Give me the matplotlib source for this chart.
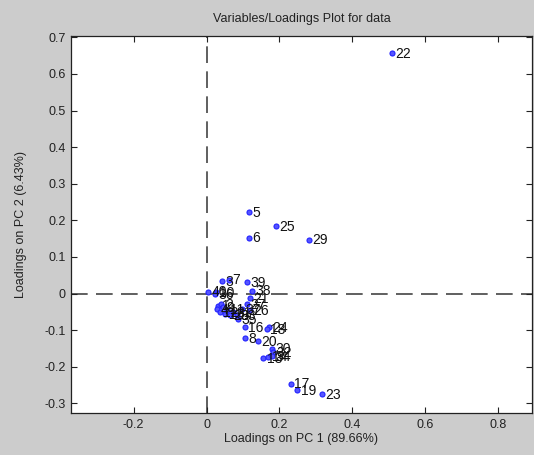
import matplotlib
matplotlib.use("Agg")
from matplotlib import pyplot as plt

# loadings of each variable on the first two principal components
labels = ["22", "5", "25", "29", "6", "3", "7", "39", "38", "40", "10", "36",
          "21", "27", "26", "1", "2", "4", "9", "11", "12", "15", "28", "31",
          "33", "35", "37", "16", "24", "18", "8", "20", "30", "32", "13",
          "14", "34", "17", "19", "23"]
pc1 = [0.509, 0.117, 0.190, 0.282, 0.117, 0.043, 0.062, 0.110, 0.125, 0.005,
       0.026, 0.022, 0.120, 0.110, 0.119, 0.032, 0.041, 0.030, 0.046, 0.055,
       0.037, 0.051, 0.064, 0.073, 0.083, 0.087, 0.096, 0.105, 0.172, 0.165,
       0.105, 0.142, 0.180, 0.183, 0.156, 0.170, 0.180, 0.231, 0.249, 0.316]
pc2 = [0.657, 0.222, 0.184, 0.147, 0.153, 0.034, 0.038, 0.031, 0.008, 0.005,
       0.003, -0.002, -0.012, -0.030, -0.046, -0.033, -0.029, -0.042, -0.038,
       -0.044, -0.051, -0.056, -0.060, -0.051, -0.060, -0.070, -0.042, -0.092,
       -0.092, -0.098, -0.122, -0.131, -0.151, -0.160, -0.176, -0.173, -0.171,
       -0.246, -0.265, -0.276]

xticks = [-0.2, 0, 0.2, 0.4, 0.6, 0.8]
yticks = [-0.3, -0.2, -0.1, 0, 0.1, 0.2, 0.3, 0.4, 0.5, 0.6, 0.7]

plt.rcParams["font.family"] = ["Liberation Sans", "DejaVu Sans"]
plt.rcParams["font.size"] = 9

fig = plt.figure(figsize=(5.34, 4.55), dpi=100, facecolor="#cccccc")
ax = fig.add_axes([0.133, 0.092, 0.863, 0.829])
ax.set_facecolor("white")

# dashed zero lines
ax.axhline(0, color="#444444", lw=1.2, ls=(0, (10, 5)), zorder=1)
ax.axvline(0, color="#444444", lw=1.2, ls=(0, (10, 5)), zorder=1)

ax.plot(pc1, pc2, "o", ls="none", ms=3.6, mfc="#5555ff", mec="#2222ff",
        mew=0.8, zorder=3)
for lab, x, y in zip(labels, pc1, pc2):
    ax.annotate(lab, (x, y), xytext=(2.5, -0.5), textcoords="offset points",
                va="center", ha="left", fontsize=10, color="#111111",
                zorder=4)

ax.set_xlim(-0.372, 0.893)
ax.set_ylim(-0.327, 0.704)
ax.set_xticks(xticks)
ax.set_xticklabels(["-0.2", "0", "0.2", "0.4", "0.6", "0.8"])
ax.set_yticks(yticks)
ax.set_yticklabels(["-0.3", "-0.2", "-0.1", "0", "0.1", "0.2", "0.3",
                    "0.4", "0.5", "0.6", "0.7"])
ax.tick_params(direction="in", length=4, width=0.8, top=True, right=True,
               colors="#222222", labelcolor="#222222", pad=4)
for sp in ax.spines.values():
    sp.set_color("#222222")
    sp.set_linewidth(0.9)

ax.set_title("Variables/Loadings Plot for data", fontsize=9, color="#222222",
             pad=10)
ax.set_xlabel("Loadings on PC 1 (89.66%)", color="#222222", labelpad=2)
ax.set_ylabel("Loadings on PC 2 (6.43%)", color="#222222", labelpad=12)

fig.savefig("out.png", dpi=100, facecolor=fig.get_facecolor())
